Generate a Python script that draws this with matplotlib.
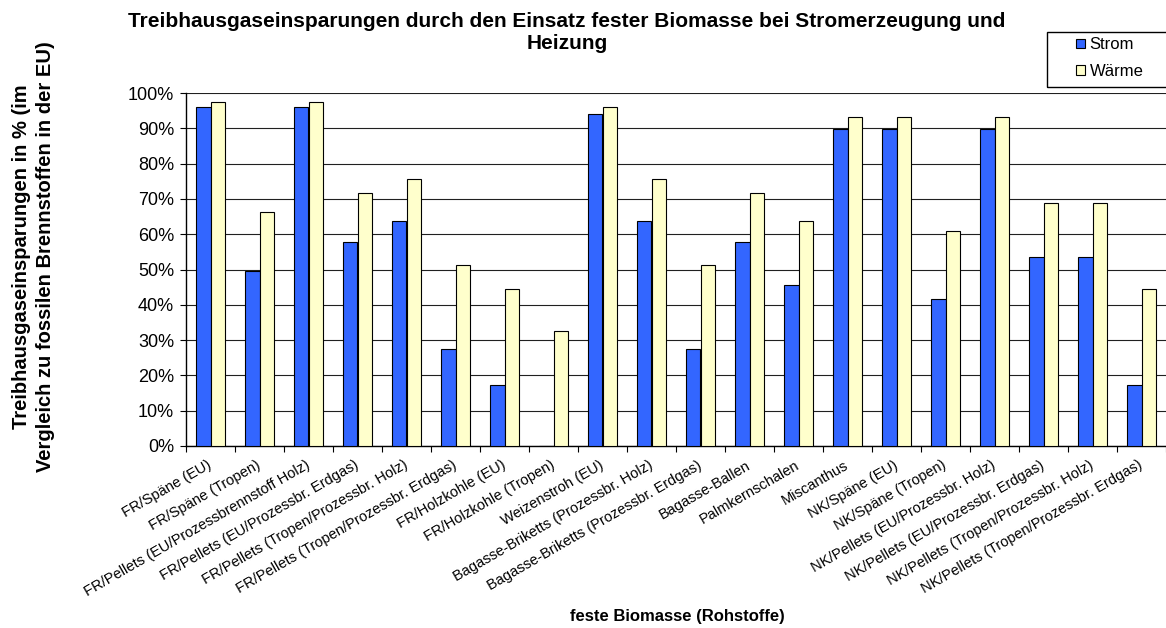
import numpy as np
import matplotlib
matplotlib.use("Agg")
import matplotlib.pyplot as plt
from matplotlib.patches import Rectangle
from matplotlib.ticker import FuncFormatter

plt.rcParams['font.family'] = ['Liberation Sans', 'DejaVu Sans']

categories = [
    "FR/Späne (EU)", "FR/Späne (Tropen)", "FR/Pellets (EU/Prozessbrennstoff Holz)",
    "FR/Pellets (EU/Prozessbr. Erdgas)", "FR/Pellets (Tropen/Prozessbr. Holz)",
    "FR/Pellets (Tropen/Prozessbr. Erdgas)", "FR/Holzkohle (EU)", "FR/Holzkohle (Tropen)",
    "Weizenstroh (EU)", "Bagasse-Briketts (Prozessbr. Holz)",
    "Bagasse-Briketts (Prozessbr. Erdgas)", "Bagasse-Ballen", "Palmkernschalen",
    "Miscanthus", "NK/Späne (EU)", "NK/Späne (Tropen)", "NK/Pellets (EU/Prozessbr. Holz)",
    "NK/Pellets (EU/Prozessbr. Erdgas)", "NK/Pellets (Tropen/Prozessbr. Holz)",
    "NK/Pellets (Tropen/Prozessbr. Erdgas)",
]
strom = [96.0, 49.5, 96.0, 57.7, 63.6, 27.4, 17.2, 0.0, 94.0, 63.6,
         27.4, 57.7, 45.7, 89.9, 89.9, 41.6, 89.9, 53.5, 53.5, 17.2]
waerme = [97.4, 66.3, 97.4, 71.6, 75.7, 51.3, 44.5, 32.6, 95.9, 75.7,
          51.3, 71.6, 63.6, 93.3, 93.3, 61.0, 93.3, 68.9, 68.9, 44.5]
series_names = ["Strom", "Wärme"]
yticks = list(range(0, 101, 10))

W, H = 1166, 628
fig = plt.figure(figsize=(W / 100, H / 100), dpi=100)
ax = fig.add_axes([186 / W, 1 - 446 / H, (1166 - 186) / W, (446 - 93) / H])

x = np.arange(len(categories))
bw = 0.29
ax.bar(x - bw / 2, strom, bw, color='#3366FF', edgecolor='black', linewidth=0.8,
       label=series_names[0], zorder=3)
ax.bar(x + bw / 2, waerme, bw, color='#FFFFCC', edgecolor='black', linewidth=0.8,
       label=series_names[1], zorder=3)

ax.set_xlim(-0.5, len(categories) - 0.5)
ax.set_ylim(0, 100)
ax.set_yticks(yticks)
ax.yaxis.set_major_formatter(FuncFormatter(lambda v, p: f"{v:.0f}%"))
ax.grid(axis='y', color='#202020', linewidth=0.8, zorder=0)
ax.set_axisbelow(True)

ax.set_xticks(np.arange(-0.5, len(categories), 1.0))
ax.set_xticklabels([])
ax.set_xticks(x, minor=True)
ax.set_xticklabels(categories, minor=True, fontsize=10.5, rotation=30,
                   ha='right', va='center', rotation_mode='anchor')
ax.tick_params(axis='x', which='minor', length=0, pad=13)
ax.tick_params(axis='x', which='major', length=4, width=0.8, direction='out')
ax.tick_params(axis='y', length=4, width=0.8, direction='out', labelsize=13, pad=4.5)

for s in ['top', 'right']:
    ax.spines[s].set_visible(False)
for s in ['left', 'bottom']:
    ax.spines[s].set_linewidth(1.0)
    ax.spines[s].set_color('black')

fig.text(567 / W, 1 - 32.5 / H,
         "Treibhausgaseinsparungen durch den Einsatz fester Biomasse bei Stromerzeugung und\nHeizung",
         ha='center', va='center', fontsize=15, fontweight='bold', linespacing=1.2)
fig.text(33.5 / W, 1 - 257 / H,
         "Treibhausgaseinsparungen in % (im\nVergleich zu fossilen Brennstoffen in der EU)",
         ha='center', va='center', rotation=90, fontsize=14.5, fontweight='bold',
         linespacing=1.3)
fig.text(677 / W, 1 - 617 / H, "feste Biomasse (Rohstoffe)", ha='center', va='center',
         fontsize=12, fontweight='bold')

fig.add_artist(Rectangle((1047 / W, 1 - 87 / H), (1170 - 1047) / W, 55 / H,
                         transform=fig.transFigure, fill=False, edgecolor='black',
                         linewidth=1.0, clip_on=False))
ax.legend(loc='center', bbox_to_anchor=(1110 / W, 1 - 58 / H),
          bbox_transform=fig.transFigure, frameon=False, fontsize=12,
          handlelength=0.5, handleheight=0.5, handletextpad=0.3, labelspacing=0.7,
          borderpad=0.2)

fig.savefig("out.png", dpi=100)
